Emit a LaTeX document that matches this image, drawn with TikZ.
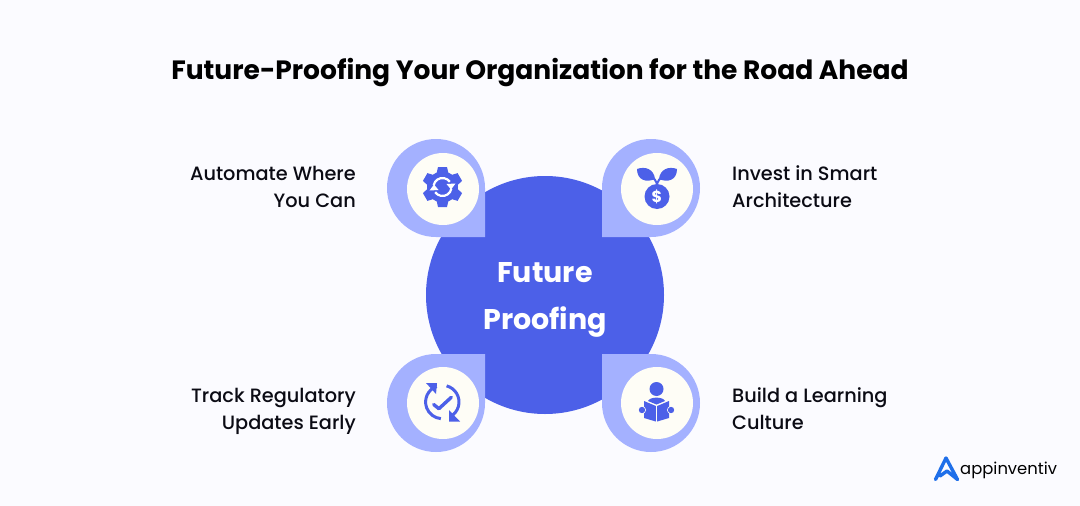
\documentclass[tikz,border=0pt]{standalone}
\usepackage{fontspec}
\setmainfont{Poppins}
\newfontfamily\medfont{Poppins Medium}
\usetikzlibrary{arrows.meta,positioning,calc}
\definecolor{bgcol}{HTML}{FBFBFF}
\definecolor{hubcol}{HTML}{4C60E8}
\definecolor{petalcol}{HTML}{A4B1FF}
\definecolor{innercol}{HTML}{FEFDF6}
\definecolor{logocol}{HTML}{1F6FE9}
\definecolor{inkcol}{HTML}{0B0B14}

\begin{document}
\begin{tikzpicture}[x=1pt, y=-1pt, line cap=butt]
	\tikzstyle{hub}=[circle,fill=hubcol,minimum size=238pt,inner sep=0pt]
	\tikzstyle{hubtext}=[inner sep=0pt,text=white,align=center,font=\fontsize{28.5}{47}\selectfont\bfseries]
	\tikzstyle{petal}=[fill=petalcol]
	\tikzstyle{inner}=[circle,fill=innercol,minimum size=72pt,inner sep=0pt]
	\tikzstyle{leftlabel}=[anchor=east,align=right,inner sep=0pt,text=inkcol,font=\fontsize{19.3}{27}\selectfont\medfont]
	\tikzstyle{rightlabel}=[anchor=west,align=left,inner sep=0pt,text=inkcol,font=\fontsize{19.3}{27}\selectfont\medfont]
	\tikzstyle{icon}=[draw=hubcol,line width=3pt]
	\useasboundingbox (0,0) rectangle (1080,506);
	\fill[bgcol] (0,0) rectangle (1080,506);
	\node[inner sep=0pt,text=black,font=\fontsize{26.5}{32}\selectfont\bfseries] (title) at (540,73) {Future-Proofing Your Organization for the Road Ahead};
	\node[hub] (H) at (545,295) {};
	\node[hubtext] (HT) at (545,300) {Future\\Proofing};
	% petals
	\fill[petal] (485,237) -- (436,237) arc[start angle=90,end angle=360,radius=49] -- cycle;
	\fill[petal] (602,237) -- (602,188) arc[start angle=180,end angle=450,radius=49] -- cycle;
	\fill[petal] (485,354) -- (485,403) arc[start angle=0,end angle=270,radius=49] -- cycle;
	\fill[petal] (602,354) -- (651,354) arc[start angle=270,end angle=540,radius=49] -- cycle;
	\node[inner] (A) at (443,189) {};
	\node[inner] (B) at (657,189) {};
	\node[inner] (C) at (443,403) {};
	\node[inner] (D) at (657,403) {};
	\node[leftlabel]  (LA) at (356,186.5) {Automate Where\\You Can};
	\node[rightlabel] (LB) at (732,186.5) {Invest in Smart\\Architecture};
	\node[leftlabel]  (LC) at (356,411.5) {Track Regulatory\\Updates Early};
	\node[rightlabel] (LD) at (732,408.5) {Build a Learning\\Culture};
	% gear
	\fill[hubcol] (442.5,187) circle (15.5);
	\foreach \a in {30,90,...,330}
		\fill[hubcol,shift={(442.5,187)},rotate=\a] (11,-6.5) -- (20,-4.5) -- (20,4.5) -- (11,6.5) -- cycle;
	\draw[white,line width=2.2pt] (442.5,187) ++(190:9) arc[start angle=190,end angle=325,radius=9];
	\draw[white,line width=2.2pt] (442.5,187) ++(10:9) arc[start angle=10,end angle=145,radius=9];
	\fill[white] (446.5,184) -- (455.5,183.5) -- (451,189.5) -- cycle;
	\fill[white] (438.5,190) -- (429.5,190.5) -- (434,184.5) -- cycle;
	% plant
	\fill[hubcol] (657,196.5) circle (12.5);
	\node[text=white,inner sep=0pt,font=\fontsize{16}{16}\selectfont\bfseries] (dollar) at (657,196.5) {\$};
	\draw[hubcol,line width=2pt] (657,186) .. controls (657,181) and (654,178) .. (650,176);
	\draw[hubcol,line width=2pt] (657,186) .. controls (657,181) and (660,178) .. (664,176);
	\fill[hubcol] (637,169) .. controls (645,166) and (654,169) .. (655,179) .. controls (646,183) and (637,180) .. cycle;
	\fill[hubcol] (677,169) .. controls (669,166) and (660,169) .. (659,179) .. controls (668,183) and (677,180) .. cycle;
	% check
	\draw[icon] (442.3,402) ++(250:16.7) arc[start angle=250,end angle=95,radius=16.7];
	\draw[icon] (442.3,402) ++(285:16.7) arc[start angle=285,end angle=420,radius=16.7];
	\fill[hubcol] (426,383) -- (437,383) -- (436,394) -- cycle;
	\fill[hubcol] (449,410) -- (449,421.5) -- (460,421.5) -- cycle;
	\draw[hubcol,line width=3.4pt,line cap=round,line join=round] (433.7,404.5) -- (438.9,408.7) -- (451.3,397.3);
	% reader
	\fill[hubcol] (656.5,389) circle (7);
	\fill[hubcol] (648,401) .. controls (650,396.5) and (663,396.5) .. (665,401) -- (656.5,404.5) -- cycle;
	\fill[hubcol] (644,401) -- (655.8,406) -- (655.8,421.5) -- (644,418) -- cycle;
	\fill[hubcol] (669,401) -- (657.2,406) -- (657.2,421.5) -- (669,418) -- cycle;
	\fill[innercol] (642,410) circle (4);
	\fill[innercol] (671,410) circle (4);
	\fill[hubcol] (642,410) circle (3.2);
	\fill[hubcol] (671,410) circle (3.2);
	% logo
	\draw[logocol,line width=3.4pt,line join=round,line cap=round] (935.5,479.5) -- (946,458) -- (957.5,479.5) -- (947,471) -- (940,476);
	\node[anchor=west,inner sep=0pt,text=black,font=\fontsize{16.4}{18}\selectfont] (logo) at (960,470) {appinventiv};
\end{tikzpicture}
\end{document}
